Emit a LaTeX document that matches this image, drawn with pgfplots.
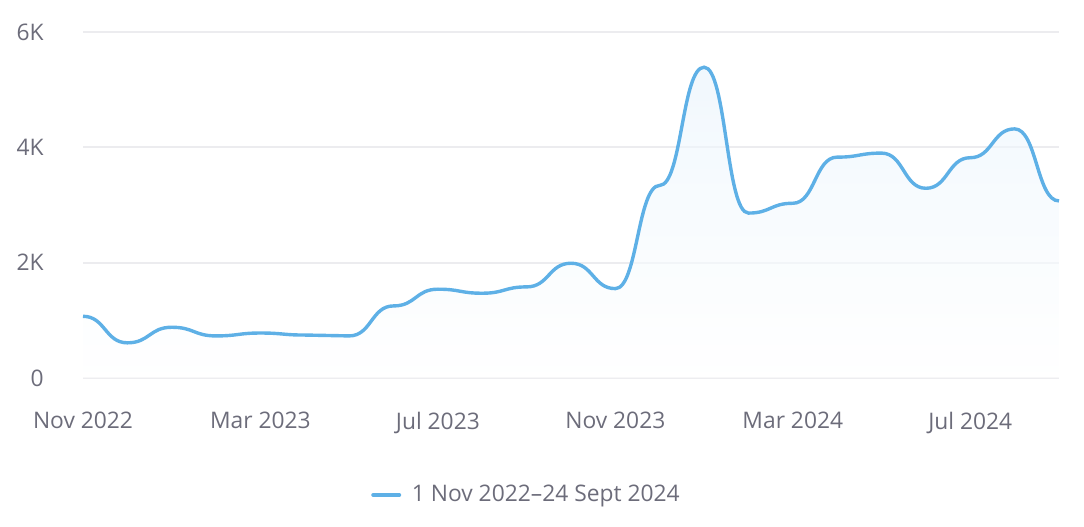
\documentclass[border=0pt]{standalone}
\usepackage{pgfplots}
\pgfplotsset{compat=1.18}
\usepackage{fontspec}
\setmainfont{Open Sans}
\definecolor{linec}{RGB}{94,176,230}
\definecolor{gridc}{RGB}{236,236,239}
\definecolor{tickc}{RGB}{108,108,122}
\definecolor{fillc}{RGB}{232,243,252}
\newif\ifbumpfirst
\makeatletter
\def\bump@point#1{%
  \pgf@process{#1}%
  \edef\bump@cx{\the\pgf@x}\edef\bump@cy{\the\pgf@y}%
  \ifbumpfirst
    \edef\bump@tmp{\noexpand\pgf@plot@first@action{\noexpand\pgfqpoint{\bump@cx}{\bump@cy}}}%
    \bump@tmp
    \global\bumpfirstfalse
  \else
    \pgf@xa=\bump@cx\relax
    \pgf@xb=\bump@lx\relax
    \pgf@xc=\pgf@xa \advance\pgf@xc by -\pgf@xb
    \pgf@xc=0.5\pgf@xc \advance\pgf@xc by \pgf@xb
    \edef\bump@tmp{\noexpand\pgfpathcurveto{\noexpand\pgfqpoint{\the\pgf@xc}{\bump@ly}}{\noexpand\pgfqpoint{\the\pgf@xc}{\bump@cy}}{\noexpand\pgfqpoint{\bump@cx}{\bump@cy}}}%
    \bump@tmp
  \fi
  \global\let\bump@lx=\bump@cx
  \global\let\bump@ly=\bump@cy
}
\pgfdeclareplothandler{\pgfplothandlerbumpx}{}{%
  start=\global\bumpfirsttrue,
  point=\bump@point{##1},
}
\tikzset{bumpx/.code={\let\tikz@plot@handler=\pgfplothandlerbumpx}}
\makeatother
\begin{document}
\begin{tikzpicture}
\path[use as bounding box] (0,0) rectangle (542pt,263pt);
\begin{axis}[
  at={(41.5pt,74pt)}, anchor=south west,
  scale only axis, width=488pt, height=173pt,
  xmin=0, xmax=22, ymin=0, ymax=6000,
  axis line style={draw=none},
  ytick={0,2000,4000,6000},
  yticklabels={0,2K,4K,6K},
  xtick={0,4,8,12,16,20},
  xticklabels={Nov 2022,Mar 2023,Jul 2023,Nov 2023,Mar 2024,Jul 2024},
  ymajorgrids, grid style={gridc, line width=1pt},
  major tick length=0pt,
  tick label style={font=\fontsize{11.4}{13}\selectfont, text=tickc},
  yticklabel style={anchor=east, inner sep=0pt, xshift=-19.5pt},
  xticklabel style={anchor=north, inner sep=0pt, yshift=-17pt},
  clip=false,
  legend style={at={(0.4554,-0.338)}, anchor=center, draw=none, fill=none,
    font=\fontsize{11.4}{13}\selectfont, text=tickc, inner sep=0pt},
  legend cell align=left,
  legend image code/.code={\draw[line width=2pt, line cap=round, linec] (0pt,0pt) -- (13pt,0pt); \path (16.5pt,0pt);},
]
\addplot[draw=none, top color=fillc, bottom color=white, fill opacity=0.6, bumpx, forget plot] coordinates {
(0,1070) (1,610) (2,880) (3,730) (4,780) (5,745) (6,730) (7,1250) (8,1540) (9,1470) (10,1580)
(11,1990) (12,1550) (13,3340) (14,5390) (15,2860) (16,3030) (17,3830) (18,3900) (19,3290)
(20,3820) (21,4320) (22,3070)} \closedcycle;
\addplot[linec, line width=1.7pt, bumpx] coordinates {
(0,1070) (1,610) (2,880) (3,730) (4,780) (5,745) (6,730) (7,1250) (8,1540) (9,1470) (10,1580)
(11,1990) (12,1550) (13,3340) (14,5390) (15,2860) (16,3030) (17,3830) (18,3900) (19,3290)
(20,3820) (21,4320) (22,3070)};
\addlegendentry{1 Nov 2022–24 Sept 2024}
\end{axis}
\end{tikzpicture}
\end{document}
